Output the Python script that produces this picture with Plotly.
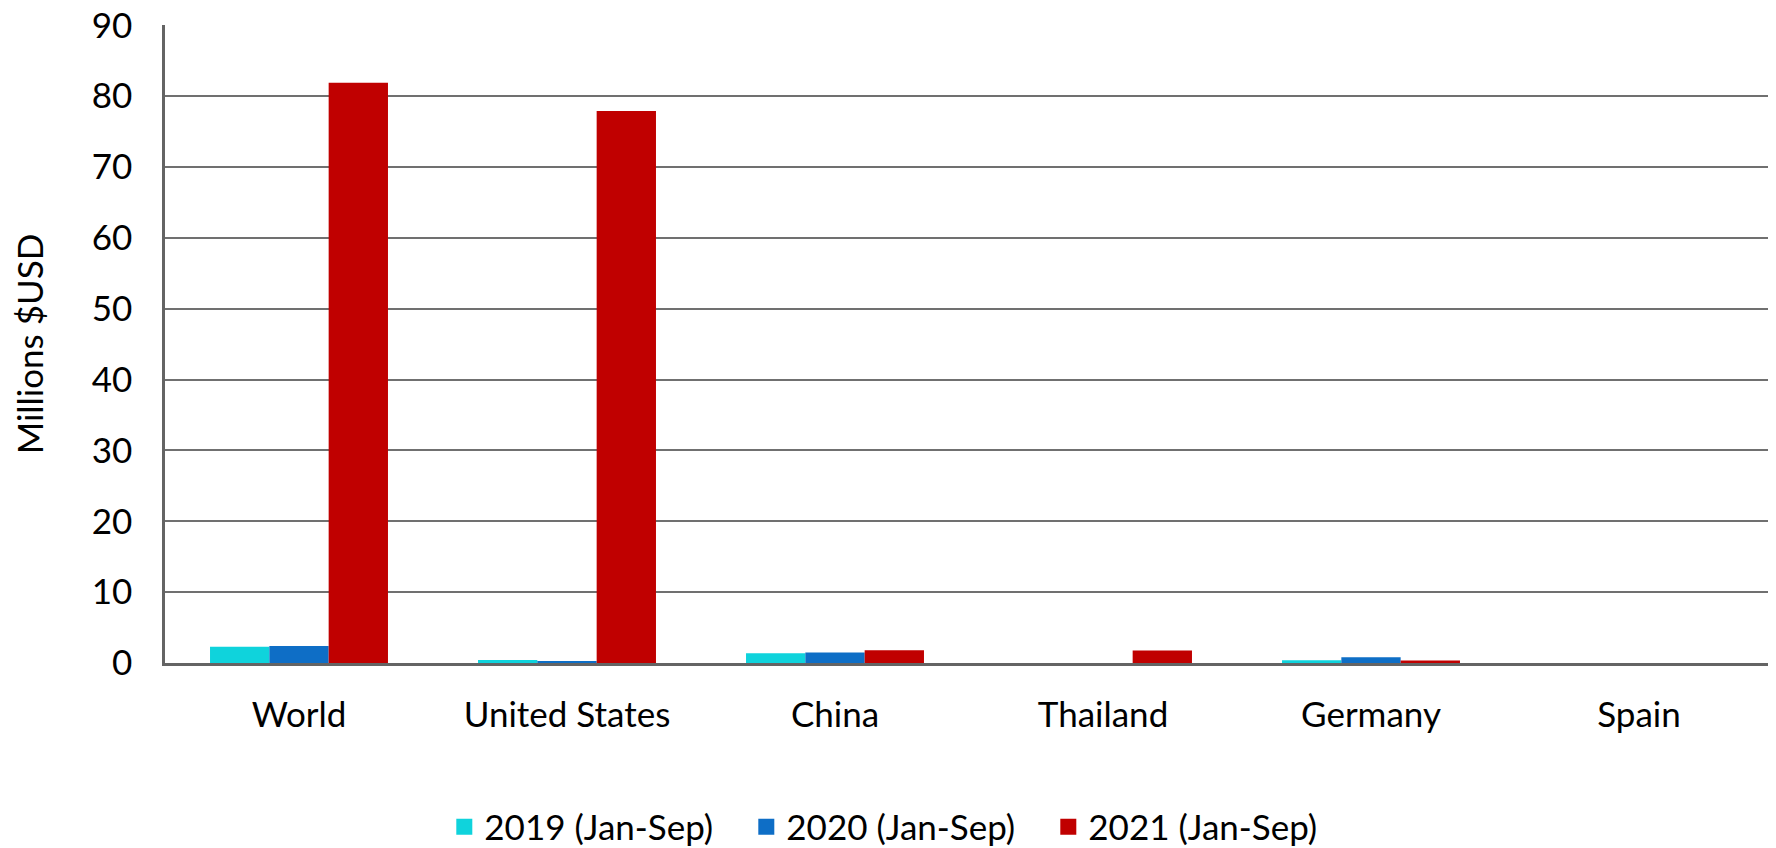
import plotly.graph_objects as go

categories = ["World", "United States", "China", "Thailand", "Germany", "Spain"]
series_names = ["2019 (Jan-Sep)", "2020 (Jan-Sep)", "2021 (Jan-Sep)"]
values_2019 = [2.3, 0.42, 1.37, 0.0, 0.38, 0.0]
values_2020 = [2.4, 0.15, 1.47, 0.0, 0.8, 0.0]
values_2021 = [81.9, 77.9, 1.8, 1.75, 0.35, 0.0]
colors = ["#0FD3DC", "#0E6EC6", "#C00000"]
y_ticks = [0, 10, 20, 30, 40, 50, 60, 70, 80, 90]

FONT = "Lato"
FS = 35

fig = go.Figure()
for name, vals, col in zip(series_names, [values_2019, values_2020, values_2021], colors):
    fig.add_trace(go.Bar(x=categories, y=vals, name=name, marker=dict(color=col, line=dict(width=0)),
                         showlegend=False))
for name, col in zip(series_names, colors):
    fig.add_trace(go.Scatter(x=[None], y=[None], mode="markers", name=name,
                             marker=dict(symbol="square", size=20, color=col)))

# page body has an 8px default margin, so the figure is sized 8px smaller
fig.update_layout(
    width=1768, height=840,
    margin=dict(l=157, r=3, t=17, b=185),
    paper_bgcolor="white", plot_bgcolor="white",
    font=dict(family=FONT, size=FS, color="black"),
    barmode="group", bargap=0.336, bargroupgap=0,
    legend=dict(orientation="h", xref="container", yref="container", x=0.503, xanchor="center",
                y=0.025, yanchor="middle", font=dict(size=FS, family=FONT),
                entrywidth=257, entrywidthmode="pixels", itemsizing="trace",
                bgcolor="rgba(0,0,0,0)"),
    showlegend=True,
)
fig.update_xaxes(showgrid=False, showline=True, linecolor="#646464", linewidth=2.5, automargin=False,
                 ticks="", ticklabelstandoff=19, tickfont=dict(size=FS, family=FONT))
fig.update_yaxes(range=[0, 90.05], tickvals=y_ticks, showgrid=True, gridcolor="#707070", gridwidth=1.8,
                 showline=True, linecolor="#646464", linewidth=2.5, zeroline=False, automargin=False,
                 ticks="", ticklabelstandoff=23, ticklabeloverflow="allow",
                 tickfont=dict(size=FS, family=FONT),
                 title=dict(text="Millions $USD", font=dict(size=FS, family=FONT), standoff=45))

fig.write_html("out.html")
